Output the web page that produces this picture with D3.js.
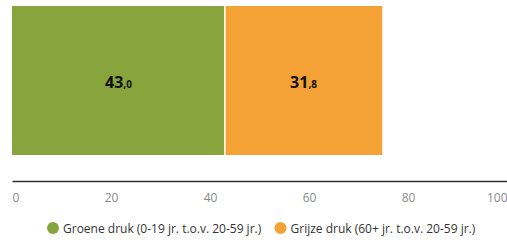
<!DOCTYPE html>
<html><head><meta charset="utf-8">
<script src="https://cdn.jsdelivr.net/npm/d3@7"></script>
<style>body{margin:0;background:#fff;}svg{display:block;font-family:"Open Sans",sans-serif;}</style>
</head><body>
<script>
const categories = ["Groene druk (0-19 jr. t.o.v. 20-59 jr.)", "Grijze druk (60+ jr. t.o.v. 20-59 jr.)"];
const values = [43.0, 31.8];
const colors = ["#87a53c", "#f4a236"];
const tickValues = [0, 20, 40, 60, 80, 100];

const W = 507, H = 244;
const svg = d3.select("body").append("svg").attr("width", W).attr("height", H);
const x = d3.scaleLinear().domain([0, 100]).range([12, 507]);
const barTop = 6, barBottom = 155;

let cum = 0;
const segs = values.map((v, i) => { const s = {v, i, x0: cum, x1: cum + v}; cum += v; return s; });

svg.selectAll("rect.bar").data(segs).enter().append("rect")
  .attr("x", d => x(d.x0)).attr("y", barTop)
  .attr("width", d => x(d.x1) - x(d.x0)).attr("height", barBottom - barTop)
  .attr("fill", d => colors[d.i]);
svg.selectAll("line.sep").data(segs.slice(1)).enter().append("line")
  .attr("x1", d => x(d.x0)).attr("x2", d => x(d.x0))
  .attr("y1", barTop).attr("y2", barBottom)
  .attr("stroke", "#fff").attr("stroke-width", 1.5);

const lab = svg.selectAll("text.val").data(segs).enter().append("text")
  .attr("x", d => (x(d.x0) + x(d.x1)) / 2).attr("y", 88)
  .attr("text-anchor", "middle").attr("fill", "#111").attr("font-weight", "bold");
lab.append("tspan").attr("font-size", 16).text(d => Math.floor(d.v));
lab.append("tspan").attr("font-size", 10).text(d => "," + d.v.toFixed(1).split(".")[1]);

const axis = d3.axisBottom(x).tickValues(tickValues).tickSize(0).tickPadding(0);
const g = svg.append("g").attr("transform", "translate(0,181)").call(axis);
g.select(".domain").attr("stroke", "#333").attr("stroke-width", 1.5);
g.selectAll("text").attr("fill", "#8a8a8a").attr("font-size", 12).attr("font-family", "Open Sans, sans-serif")
  .attr("y", 21).attr("dy", 0)
  .attr("text-anchor", (d, i) => i === 0 ? "start" : (i === tickValues.length - 1 ? "end" : "middle"));

const legX = [53, 280.5];
const leg = svg.selectAll("g.leg").data(categories).enter().append("g")
  .attr("transform", (d, i) => `translate(${legX[i]},228)`);
leg.append("circle").attr("r", 6).attr("fill", (d, i) => colors[i]);
leg.append("text").attr("x", 10).attr("y", 4.5).attr("font-size", 12).attr("fill", "#333").text(d => d);
</script>
</body></html>
